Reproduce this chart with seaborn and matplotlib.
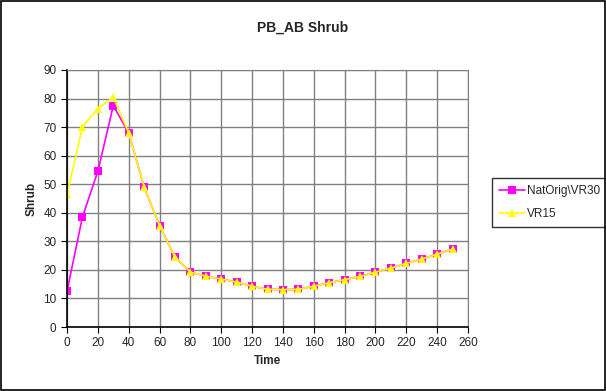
import pandas as pd
import seaborn as sns
import matplotlib.pyplot as plt

time = [0, 10, 20, 30, 40, 50, 60, 70, 80, 90, 100, 110, 120, 130,
        140, 150, 160, 170, 180, 190, 200, 210, 220, 230, 240, 250]
nat_orig = [12.5, 38.5, 54.5, 77.5, 68.0, 49.0, 35.5, 24.5, 19.2, 17.8, 16.8, 15.7, 14.3, 13.2,
            13.1, 13.2, 14.3, 15.5, 16.6, 17.7, 19.2, 20.6, 22.3, 23.8, 25.5, 27.3]
vr15 = [46.5, 70.0, 76.5, 80.5, 68.0, 49.0, 35.5, 24.5, 19.2, 17.8, 16.8, 15.7, 14.3, 13.2,
        13.1, 13.2, 14.3, 15.5, 16.6, 17.7, 19.2, 20.6, 22.3, 23.8, 25.5, 27.3]

df = pd.DataFrame({'Time': time * 2,
                   'Shrub': nat_orig + vr15,
                   'Series': ['NatOrig\\VR30'] * len(time) + ['VR15'] * len(time)})

sns.set_style("white")
plt.rcParams['font.family'] = ['Liberation Sans', 'DejaVu Sans']

fig = plt.figure(figsize=(6.06, 3.91), dpi=100)
ax = fig.add_axes([67 / 606, 1 - 327 / 391, (468 - 67) / 606, (327 - 70) / 391])

sns.lineplot(data=df, x='Time', y='Shrub', hue='Series', style='Series',
             palette={'NatOrig\\VR30': '#FF00FF', 'VR15': '#FFFF00'},
             markers={'NatOrig\\VR30': 's', 'VR15': '^'}, dashes=False,
             markersize=5.5, markeredgewidth=0, linewidth=1.2, ax=ax, legend=True)

ax.set_xlim(0, 260)
ax.set_ylim(0, 90)
ax.set_xticks(range(0, 261, 20))
ax.set_yticks(range(0, 91, 10))
ax.grid(True, color='#808080', linewidth=1)
ax.set_axisbelow(True)
ax.tick_params(axis='both', labelsize=8.5, length=4, direction='out', bottom=True, left=True, color='black')
for side in ['top', 'right']:
    ax.spines[side].set_color('#808080')
for side in ['left', 'bottom']:
    ax.spines[side].set_color('black')
    ax.spines[side].set_linewidth(1.2)

ax.set_xlabel('Time', fontsize=8.5, fontweight='bold')
ax.set_ylabel('Shrub', fontsize=8.5, fontweight='bold')
fig.text(0.5, 1 - 28 / 391, 'PB_AB Shrub', ha='center', va='center', fontsize=10, fontweight='bold')

leg = ax.legend(loc='upper left', bbox_to_anchor=(492 / 606, 1 - 178 / 391), bbox_transform=fig.transFigure,
                frameon=True, fontsize=8.5, fancybox=False, borderaxespad=0, handlelength=2.2,
                handletextpad=0.2, borderpad=0.6, labelspacing=0.9)
leg.get_frame().set_edgecolor('black')
leg.get_frame().set_linewidth(1)

fig.patches.append(plt.Rectangle((0.002, 0.002), 0.996, 0.995, transform=fig.transFigure,
                                 fill=False, edgecolor='black', linewidth=1.2))

plt.savefig('out.png', dpi=100)
